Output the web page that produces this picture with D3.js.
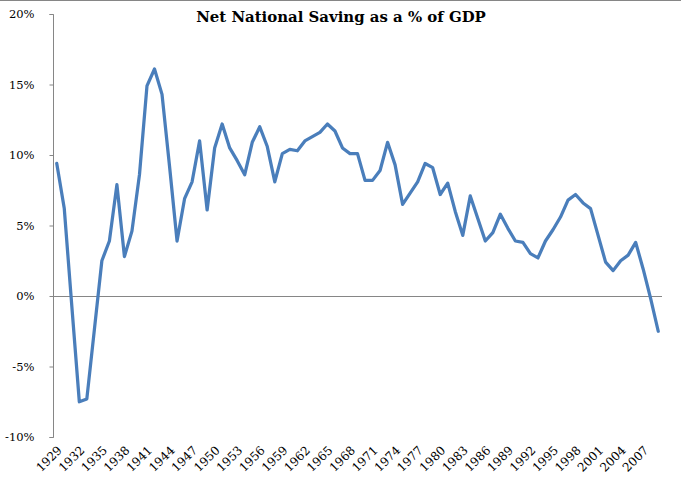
<!DOCTYPE html>
<html>
<head>
<meta charset="utf-8">
<script src="https://cdn.jsdelivr.net/npm/d3@7/dist/d3.min.js"></script>
<style>
  html, body { margin: 0; padding: 0; background: #fff; }
  svg { display: block; }
</style>
</head>
<body>
<svg id="chart" width="681" height="493"></svg>
<script>
const title = "Net National Saving as a % of GDP";
const years = d3.range(1929, 2010);
const saving = [
  9.4, 6.2, -0.7, -7.5, -7.3, -2.4, 2.5, 3.9, 7.9, 2.8,
  4.6, 8.6, 14.9, 16.1, 14.3, 9.2, 3.9, 6.9, 8.1, 11.0,
  6.1, 10.5, 12.2, 10.5, 9.6, 8.6, 10.9, 12.0, 10.6, 8.1,
  10.1, 10.4, 10.3, 11.0, 11.3, 11.6, 12.2, 11.7, 10.5, 10.1,
  10.1, 8.2, 8.2, 8.9, 10.9, 9.3, 6.5, 7.3, 8.1, 9.4,
  9.1, 7.2, 8.0, 6.0, 4.3, 7.1, 5.5, 3.9, 4.5, 5.8,
  4.8, 3.9, 3.8, 3.0, 2.7, 3.9, 4.7, 5.6, 6.8, 7.2,
  6.6, 6.2, 4.3, 2.4, 1.8, 2.5, 2.9, 3.8, 1.9, -0.2,
  -2.5
];
const yTicks = [-10, -5, 0, 5, 10, 15, 20];
const xTickYears = d3.range(1929, 2008, 3);

const svg = d3.select("#chart");
const mLeft = 53, mRight = 662, mTop = 14, mBottom = 437;
const axisColor = "#868686";
const lineColor = "#4a7ebb";
const serif = "'DejaVu Serif', Georgia, serif";

svg.append("line").attr("x1", 0).attr("x2", 681).attr("y1", 0.5).attr("y2", 0.5)
  .attr("stroke", axisColor).attr("stroke-width", 1);

const x = d3.scaleBand().domain(years).range([mLeft, mRight]).padding(0);
const y = d3.scaleLinear().domain([-10, 20]).range([mBottom, mTop]);
const cx = d => x(d) + x.bandwidth() / 2;

// Y axis
const yAxis = d3.axisLeft(y).tickValues(yTicks).tickSize(4).tickPadding(15)
  .tickFormat(d => d + "%");
const gy = svg.append("g").attr("transform", `translate(${mLeft + 0.5},0)`).call(yAxis);
gy.select(".domain").attr("stroke", axisColor).attr("d", `M-4,${y(20)+0.5}H0V${y(-10)+0.5}H-4`);
gy.selectAll(".tick line").attr("stroke", axisColor);
gy.selectAll(".tick text").attr("font-family", serif).attr("font-size", 11.5).attr("fill", "#000");

// Zero line (category axis)
svg.append("line").attr("x1", mLeft).attr("x2", mRight)
  .attr("y1", Math.round(y(0)) + 0.5).attr("y2", Math.round(y(0)) + 0.5)
  .attr("stroke", axisColor).attr("stroke-width", 1);

// X labels at bottom, rotated
svg.append("g").selectAll("text").data(xTickYears).join("text")
  .attr("transform", d => `translate(${cx(d) + 6},${mBottom + 14}) rotate(-45)`)
  .attr("text-anchor", "end")
  .attr("font-family", serif).attr("font-size", 12).attr("fill", "#000")
  .text(d => d);

// Line
const line = d3.line().x((d, i) => cx(years[i])).y(d => y(d));
svg.append("path").datum(saving).attr("d", line)
  .attr("fill", "none").attr("stroke", lineColor).attr("stroke-width", 3.25)
  .attr("stroke-linejoin", "round").attr("stroke-linecap", "round");

// Title
const t = svg.append("text").attr("x", 341).attr("y", 22).attr("text-anchor", "middle")
  .attr("font-family", serif).attr("font-weight", "bold").attr("font-size", 16)
  .attr("fill", "#000").text(title);
const w = t.node().getComputedTextLength();
t.attr("font-size", 16 * 290 / w);
</script>
</body>
</html>
